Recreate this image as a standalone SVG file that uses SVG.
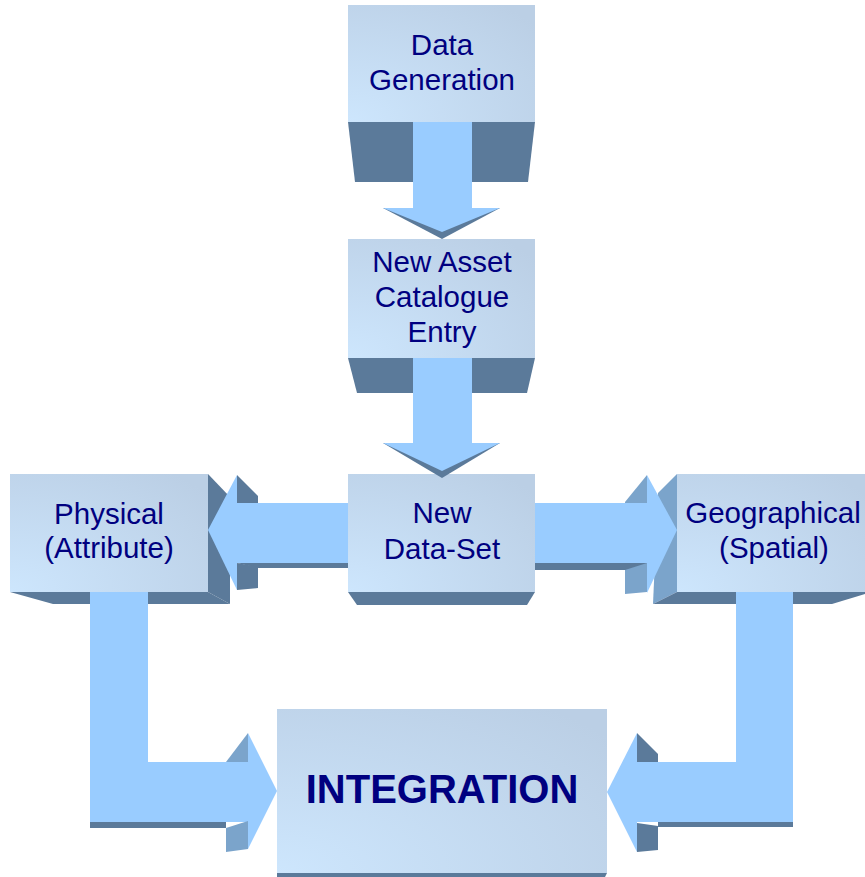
<svg xmlns="http://www.w3.org/2000/svg" width="865" height="877" viewBox="0 0 865 877">
<defs>
<radialGradient id="face" cx="0" cy="1" r="1.3">
<stop offset="0" stop-color="#CDE6FD"/>
<stop offset="1" stop-color="#BBCFE5"/>
</radialGradient>
<style>
.face{fill:url(#face)}
.dark{fill:#5B7A9A}
.mid{fill:#7BA4CB}
.arrow{fill:#99CCFF}
.lbl{font-family:"Liberation Sans",Arial,sans-serif;font-size:29.5px;fill:#000080;text-anchor:middle}
.big{font-family:"Liberation Sans",Arial,sans-serif;font-size:40px;font-weight:bold;fill:#000080;text-anchor:middle}
</style>
</defs>
<rect width="865" height="877" fill="#FFFFFF"/>

<g id="node-data-generation">
<polygon class="dark" points="348,122 535,122 528,182 355,182"/>
<rect class="face" x="348" y="5" width="187" height="117"/>
<text class="lbl" x="442" y="55">Data</text>
<text class="lbl" x="442" y="90">Generation</text>
</g>

<g id="node-asset-catalogue">
<polygon class="dark" points="348,358 535,358 527,393 357,393"/>
<rect class="face" x="348" y="239" width="187" height="119"/>
<text class="lbl" x="442" y="272">New Asset</text>
<text class="lbl" x="442" y="307">Catalogue</text>
<text class="lbl" x="442" y="342">Entry</text>
</g>

<g id="node-new-data-set">
<polygon class="dark" points="348,592 535,592 527,605 357,605"/>
<rect class="face" x="348" y="474" width="187" height="118"/>
<text class="lbl" x="442" y="523">New</text>
<text class="lbl" x="442" y="559">Data-Set</text>
</g>

<g id="node-physical">
<polygon class="dark" points="208,474 230,497 230,604 208,592"/>
<polygon class="dark" points="10,592 208,592 230,604 53,604"/>
<rect class="face" x="10" y="474" width="198" height="118"/>
<text class="lbl" x="109" y="524">Physical</text>
<text class="lbl" x="109" y="558">(Attribute)</text>
</g>

<g id="node-geographical">
<polygon class="mid" points="677,474 658,493 653,604 677,592"/>
<polygon class="dark" points="677,592 865,592 865,594 832,604 653,604"/>
<rect class="face" x="677" y="474" width="188" height="118"/>
<text class="lbl" x="773" y="523">Geographical</text>
<text class="lbl" x="774" y="558">(Spatial)</text>
</g>

<g id="node-integration">
<polygon class="dark" points="277,873 607,873 605,877 277,877"/>
<rect class="face" x="277" y="709" width="330" height="164"/>
<text class="big" x="442" y="803">INTEGRATION</text>
</g>

<g id="connectors">
<!-- Data Generation -> Asset Catalogue -->
<rect class="arrow" x="413" y="122" width="59" height="87"/>
<polygon class="dark" points="383,208 500,208 442,239"/>
<polygon class="arrow" points="383,208 500,208 442,232"/>
<!-- Asset Catalogue -> New Data-Set -->
<rect class="arrow" x="413" y="358" width="59" height="86"/>
<polygon class="dark" points="383,443 500,443 442,478"/>
<polygon class="arrow" points="383,443 500,443 442,471"/>
<!-- New Data-Set -> Physical -->
<polygon class="dark" points="237,563 348,563 348,568 258,568"/>
<rect class="arrow" x="237" y="503" width="111" height="60"/>
<polygon class="dark" points="237,475 258,496 258,503 237,503"/>
<polygon class="dark" points="237,563 258,567 258,588 237,590"/>
<polygon class="arrow" points="208,530 237,475 237,590"/>
<!-- New Data-Set -> Geographical -->
<polygon class="dark" points="535,563 647,563 647,570 535,570"/>
<rect class="arrow" x="535" y="503" width="112" height="60"/>
<polygon class="mid" points="625,502 647,475 647,503 625,503"/>
<polygon class="mid" points="625,570 647,563 647,592 625,594"/>
<polygon class="arrow" points="647,475 677,530 647,593"/>
<!-- Physical -> Integration -->
<polygon class="dark" points="90,822 226,822 226,828 90,828"/>
<rect class="arrow" x="90" y="592" width="58" height="230"/>
<rect class="arrow" x="90" y="762" width="158" height="60"/>
<polygon class="mid" points="226,762 248,733 248,762"/>
<polygon class="mid" points="226,828 248,821 248,849 226,852"/>
<polygon class="arrow" points="248,733 277,791 248,849"/>
<!-- Geographical -> Integration -->
<polygon class="dark" points="658,822 793,822 793,827 658,827"/>
<rect class="arrow" x="736" y="592" width="57" height="230"/>
<rect class="arrow" x="637" y="762" width="156" height="60"/>
<polygon class="dark" points="637,733 658,754 658,762 637,762"/>
<polygon class="dark" points="637,823 658,826 658,850 637,852"/>
<polygon class="arrow" points="607,792 637,733 637,852"/>
</g>
</svg>
